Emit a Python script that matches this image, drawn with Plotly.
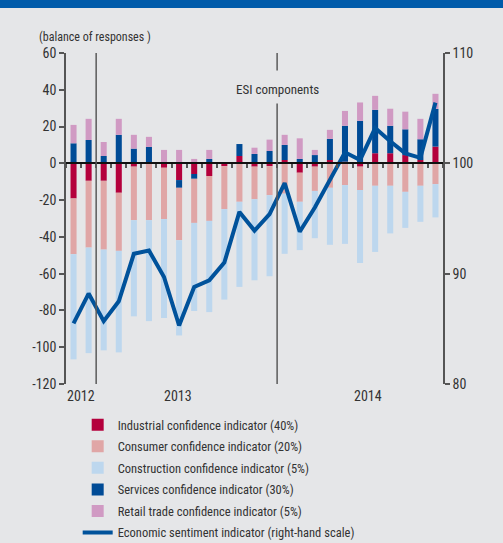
import plotly.graph_objects as go

months = ["Nov 2012", "Dec 2012",
          "Jan 2013", "Feb 2013", "Mar 2013", "Apr 2013", "May 2013", "Jun 2013",
          "Jul 2013", "Aug 2013", "Sep 2013", "Oct 2013", "Nov 2013", "Dec 2013",
          "Jan 2014", "Feb 2014", "Mar 2014", "Apr 2014", "May 2014", "Jun 2014",
          "Jul 2014", "Aug 2014", "Sep 2014", "Oct 2014", "Nov 2014"]

industrial = [-19.1, -9.5, -9.5, -16.0, -1.8, -0.3, -2.4, -9.1, -5.8, -6.9, -1.5, 4.0, -1.8,
              -1.5, 1.8, -5.1, -1.8, 1.8, 0.9, -1.8, 5.5, 5.5, 4.5, 1.8, 9.1]
services = [10.9, 12.7, 4.0, 15.5, 8.0, 8.9, 0.7, -4.2, -2.6, 2.4, 0.0, 6.5, 5.1,
            6.7, 8.2, 2.4, 4.5, 11.5, 19.5, 23.1, 23.6, 14.9, 14.0, 11.3, 20.5]
retail = [10.0, 11.5, 7.6, 8.7, 7.5, 5.5, 6.6, 7.3, 2.4, 4.9, 0.0, 0.0, 3.4,
          6.2, 5.5, 11.2, 2.8, 4.9, 8.1, 10.0, 7.6, 9.3, 9.6, 11.1, 8.2]
consumer = [-30.3, -36.3, -37.4, -31.6, -29.1, -30.6, -27.9, -28.5, -24.0, -24.4, -23.4, -20.9, -17.7,
            -15.8, -16.5, -15.8, -13.2, -13.3, -11.8, -12.7, -12.2, -12.2, -15.5, -12.2, -11.3]
construction = [-57.2, -57.4, -54.8, -55.2, -52.3, -54.9, -53.8, -51.8, -47.9, -49.6, -49.2, -46.3, -44.1,
                -44.1, -32.7, -26.3, -25.7, -31.0, -32.0, -39.7, -36.0, -25.9, -19.6, -19.6, -18.1]
esi = [85.5, 88.2, 85.7, 87.5, 91.8, 92.1, 89.7, 85.3, 88.8, 89.4, 91.0, 95.6, 93.9,
       95.4, 98.2, 93.8, 96.0, 98.5, 101.0, 100.3, 103.2, 102.0, 100.9, 100.5, 105.5]

year_labels = ["2012", "2013", "2014"]
year_label_pos = [0.5, 6.9, 19.5]
year_breaks = [1.5, 13.5]

FONT = "Liberation Sans Narrow, Arial Narrow, Roboto Condensed, Liberation Sans, Arial, sans-serif"
TXT = "#333333"
BG = "#E5E6E8"

fig = go.Figure()

# stacking order (relative): industrial, services, retail, consumer, construction
bar_specs = [
    ("Industrial confidence indicator (40%)", industrial, "#B4003C", 1),
    ("Services confidence indicator (30%)", services, "#004B96", 4),
    ("Retail trade confidence indicator (5%)", retail, "#D09AC3", 5),
    ("Consumer confidence indicator (20%)", consumer, "#E0A6A6", 2),
    ("Construction confidence indicator (5%)", construction, "#BDD7EE", 3),
]
for name, vals, col, rank in bar_specs:
    fig.add_trace(go.Bar(x=months, y=vals, name=name, marker=dict(color=col, line=dict(width=0)),
                         width=0.4, legendrank=rank, legendgroup=name))

fig.add_trace(go.Scatter(x=months, y=esi, name="Economic sentiment indicator (right-hand scale)",
                         mode="lines", line=dict(color="#00529B", width=4), yaxis="y2", legendrank=6,
                         legendgroup="esi"))

shapes = []
shapes.append(dict(type="line", xref="x", yref="y", x0=year_breaks[0], x1=year_breaks[0], y0=-120, y1=60,
                   line=dict(color="#5a5a5a", width=1.5)))
shapes.append(dict(type="line", xref="x", yref="y", x0=year_breaks[1], x1=year_breaks[1], y0=-120, y1=32.5,
                   line=dict(color="#5a5a5a", width=1.5)))
shapes.append(dict(type="line", xref="x", yref="y", x0=year_breaks[1], x1=year_breaks[1], y0=50.5, y1=60,
                   line=dict(color="#5a5a5a", width=1.5)))
shapes.append(dict(type="rect", xref="paper", yref="paper", x0=-0.3, x1=1.3, y0=1.136, y1=1.3,
                   fillcolor="#005BAA", line=dict(width=0), layer="below"))

annotations = []
for lbl, pos in zip(year_labels, year_label_pos):
    annotations.append(dict(x=pos, y=0, xref="x", yref="paper", text=lbl, showarrow=False,
                            yanchor="top", yshift=-2, font=dict(family=FONT, size=14, color=TXT)))
annotations.append(dict(x=year_breaks[1], y=40, xref="x", yref="y", text="ESI components", showarrow=False,
                        font=dict(family=FONT, size=13, color=TXT)))
annotations.append(dict(x=-0.076, y=1.075, xref="paper", yref="paper", text="(balance of responses )",
                        showarrow=False, xanchor="left", font=dict(family=FONT, size=12, color=TXT)))

fig.update_layout(
    width=503, height=543,
    margin=dict(l=66, r=60, t=53, b=159, autoexpand=False),
    paper_bgcolor=BG, plot_bgcolor=BG,
    barmode="relative", bargap=0.6,
    font=dict(family=FONT, size=14, color=TXT),
    showlegend=True,
    legend=dict(x=0.031, y=-0.079, xanchor="left", yanchor="top", traceorder="grouped",
                font=dict(family=FONT, size=12.5, color=TXT), itemwidth=30, tracegroupgap=2.3,
                bgcolor="rgba(0,0,0,0)"),
    xaxis=dict(type="category", range=[-0.5, 24.5], anchor="free", position=120 / 180,
               showline=True, linecolor="#111111", linewidth=1.5,
               ticks="outside", tickson="boundaries", ticklen=4, tickcolor="#555555", tickwidth=1.5,
               showticklabels=False, showgrid=False, zeroline=False),
    yaxis=dict(range=[-120, 60], tickvals=[60, 40, 20, 0, -20, -40, -60, -80, -100, -120],
               ticktext=["60", "40", "20", "0", "-20", "-40", "-60", "-80", "-100", "-120"],
               showline=True, linecolor="#555555", linewidth=1.5, ticks="outside", ticklen=5,
               tickcolor="#555555", tickwidth=1.5, showgrid=False, zeroline=False,
               tickfont=dict(family=FONT, size=14, color=TXT)),
    yaxis2=dict(range=[80, 110], overlaying="y", side="right", tickvals=[80, 90, 100, 110],
                showline=True, linecolor="#555555", linewidth=1.5, ticks="outside", ticklen=5,
                tickcolor="#555555", tickwidth=1.5, showgrid=False, zeroline=False,
                tickfont=dict(family=FONT, size=14, color=TXT)),
    shapes=shapes, annotations=annotations,
)

fig.write_html("out.html", config={"displayModeBar": False},
               post_script="document.body.style.margin='0';document.body.style.background='%s';" % BG)
